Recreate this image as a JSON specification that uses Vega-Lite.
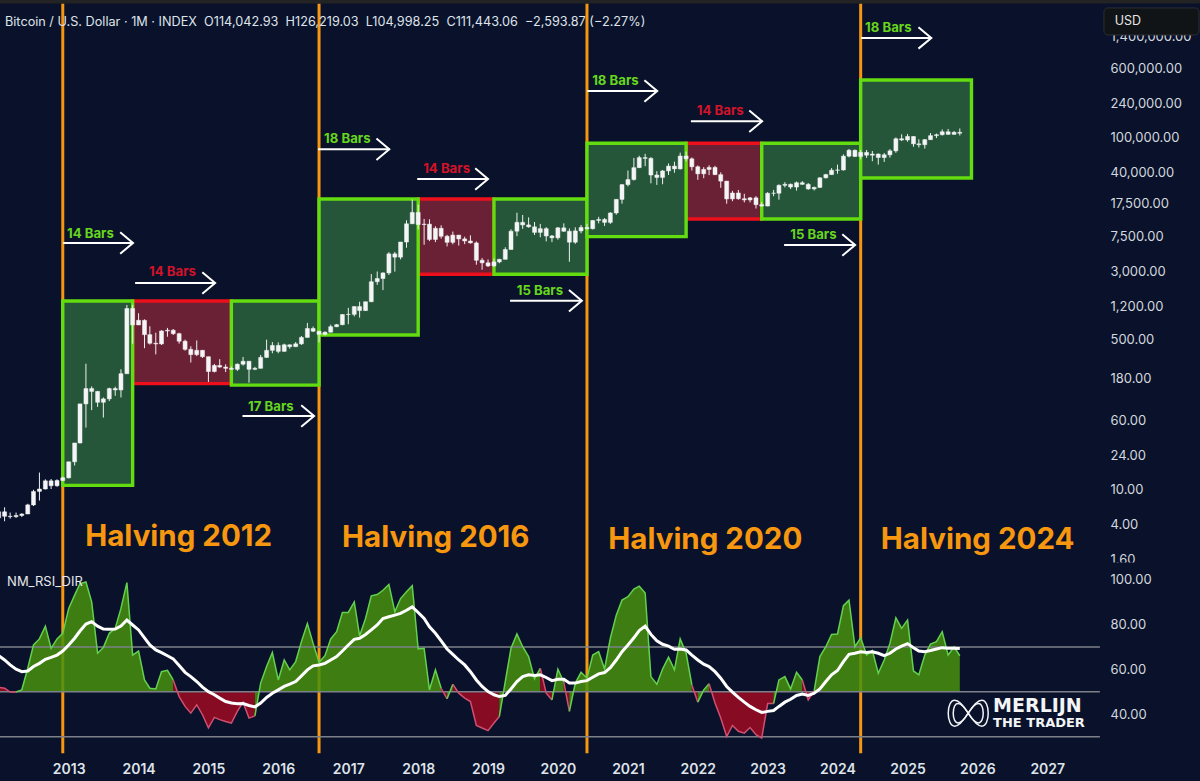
{
"$schema":"https://vega.github.io/schema/vega-lite/v6.json",
"width":1200,"height":781,"padding":0,"autosize":{"type":"none","contains":"content"},
"background":"#09122a",
"config":{"view":{"stroke":null},"font":"Inter","axis":{"grid":false,"domain":false,"ticks":false}},
"datasets":{
"candles":[
{"date":"2012-01-01","open":4.7,"high":7.2,"low":4.6,"close":5.5},{"date":"2012-02-01","open":5.5,"high":6.2,"low":4.3,"close":4.9},{"date":"2012-03-01","open":4.9,"high":5.4,"low":4.6,"close":4.85},{"date":"2012-04-01","open":4.85,"high":5.4,"low":4.7,"close":5.0},{"date":"2012-05-01","open":5.0,"high":5.3,"low":4.8,"close":5.2},{"date":"2012-06-01","open":5.2,"high":6.8,"low":5.2,"close":6.6},{"date":"2012-07-01","open":6.6,"high":9.8,"low":6.4,"close":9.4},{"date":"2012-08-01","open":9.4,"high":15.4,"low":7.4,"close":10.0},{"date":"2012-09-01","open":10.0,"high":12.9,"low":9.9,"close":12.4},{"date":"2012-10-01","open":12.4,"high":13.0,"low":10.0,"close":10.9},{"date":"2012-11-01","open":10.9,"high":12.9,"low":10.6,"close":12.5},{"date":"2012-12-01","open":12.5,"high":13.8,"low":12.3,"close":13.4},
{"date":"2013-01-01","open":13.4,"high":20.4,"low":13.2,"close":20.4},{"date":"2013-02-01","open":20.4,"high":33.4,"low":18.5,"close":33.4},{"date":"2013-03-01","open":33.4,"high":93,"low":33,"close":93},{"date":"2013-04-01","open":93,"high":266,"low":50,"close":139},{"date":"2013-05-01","open":139,"high":147,"low":79,"close":129},{"date":"2013-06-01","open":129,"high":130,"low":86,"close":97},{"date":"2013-07-01","open":97,"high":110,"low":65,"close":106},{"date":"2013-08-01","open":106,"high":142,"low":100,"close":139},{"date":"2013-09-01","open":139,"high":146,"low":115,"close":134},{"date":"2013-10-01","open":134,"high":230,"low":110,"close":205},{"date":"2013-11-01","open":205,"high":1240,"low":205,"close":1130},{"date":"2013-12-01","open":1130,"high":1240,"low":450,"close":735},
{"date":"2014-01-01","open":735,"high":1000,"low":735,"close":830},{"date":"2014-02-01","open":830,"high":850,"low":400,"close":570},{"date":"2014-03-01","open":570,"high":710,"low":440,"close":455},{"date":"2014-04-01","open":455,"high":600,"low":340,"close":447},{"date":"2014-05-01","open":447,"high":640,"low":435,"close":628},{"date":"2014-06-01","open":628,"high":680,"low":540,"close":640},{"date":"2014-07-01","open":640,"high":660,"low":565,"close":585},{"date":"2014-08-01","open":585,"high":600,"low":450,"close":480},{"date":"2014-09-01","open":480,"high":500,"low":375,"close":388},{"date":"2014-10-01","open":388,"high":420,"low":275,"close":338},{"date":"2014-11-01","open":338,"high":490,"low":325,"close":378},{"date":"2014-12-01","open":378,"high":382,"low":310,"close":320},
{"date":"2015-01-01","open":320,"high":320,"low":165,"close":217},{"date":"2015-02-01","open":217,"high":265,"low":212,"close":254},{"date":"2015-03-01","open":254,"high":300,"low":240,"close":244},{"date":"2015-04-01","open":244,"high":262,"low":214,"close":236},{"date":"2015-05-01","open":236,"high":248,"low":228,"close":230},{"date":"2015-06-01","open":230,"high":268,"low":220,"close":263},{"date":"2015-07-01","open":263,"high":318,"low":253,"close":284},{"date":"2015-08-01","open":284,"high":285,"low":162,"close":230},{"date":"2015-09-01","open":230,"high":245,"low":225,"close":236},{"date":"2015-10-01","open":236,"high":335,"low":236,"close":314},{"date":"2015-11-01","open":314,"high":500,"low":310,"close":378},{"date":"2015-12-01","open":378,"high":470,"low":350,"close":430},
{"date":"2016-01-01","open":430,"high":465,"low":350,"close":368},{"date":"2016-02-01","open":368,"high":450,"low":365,"close":437},{"date":"2016-03-01","open":437,"high":440,"low":395,"close":416},{"date":"2016-04-01","open":416,"high":470,"low":416,"close":448},{"date":"2016-05-01","open":448,"high":550,"low":436,"close":530},{"date":"2016-06-01","open":530,"high":775,"low":530,"close":670},{"date":"2016-07-01","open":670,"high":705,"low":610,"close":624},{"date":"2016-08-01","open":624,"high":625,"low":465,"close":575},{"date":"2016-09-01","open":575,"high":620,"low":560,"close":608},{"date":"2016-10-01","open":608,"high":740,"low":605,"close":702},{"date":"2016-11-01","open":702,"high":755,"low":695,"close":740},{"date":"2016-12-01","open":740,"high":980,"low":730,"close":965},
{"date":"2017-01-01","open":965,"high":1150,"low":750,"close":970},{"date":"2017-02-01","open":970,"high":1200,"low":920,"close":1190},{"date":"2017-03-01","open":1190,"high":1350,"low":890,"close":1071},{"date":"2017-04-01","open":1071,"high":1350,"low":1060,"close":1350},{"date":"2017-05-01","open":1350,"high":2790,"low":1340,"close":2280},{"date":"2017-06-01","open":2280,"high":2980,"low":2100,"close":2480},{"date":"2017-07-01","open":2480,"high":2920,"low":1830,"close":2870},{"date":"2017-08-01","open":2870,"high":4950,"low":2720,"close":4730},{"date":"2017-09-01","open":4730,"high":4980,"low":2970,"close":4340},{"date":"2017-10-01","open":4340,"high":6450,"low":4100,"close":6450},{"date":"2017-11-01","open":6450,"high":11400,"low":5550,"close":10400},{"date":"2017-12-01","open":10400,"high":19666,"low":10400,"close":14000},
{"date":"2018-01-01","open":14000,"high":17200,"low":9000,"close":10200},{"date":"2018-02-01","open":10200,"high":11800,"low":6000,"close":10300},{"date":"2018-03-01","open":10300,"high":11700,"low":6600,"close":6900},{"date":"2018-04-01","open":6900,"high":9750,"low":6430,"close":9240},{"date":"2018-05-01","open":9240,"high":10000,"low":7050,"close":7500},{"date":"2018-06-01","open":7500,"high":7780,"low":5750,"close":6400},{"date":"2018-07-01","open":6400,"high":8480,"low":6070,"close":7730},{"date":"2018-08-01","open":7730,"high":7750,"low":5880,"close":7000},{"date":"2018-09-01","open":7000,"high":7410,"low":6100,"close":6630},{"date":"2018-10-01","open":6630,"high":7680,"low":6200,"close":6300},{"date":"2018-11-01","open":6300,"high":6560,"low":3560,"close":4000},{"date":"2018-12-01","open":4000,"high":4240,"low":3120,"close":3740},
{"date":"2019-01-01","open":3740,"high":4080,"low":3350,"close":3450},{"date":"2019-02-01","open":3450,"high":4200,"low":3390,"close":3830},{"date":"2019-03-01","open":3830,"high":4150,"low":3700,"close":4100},{"date":"2019-04-01","open":4100,"high":5620,"low":4100,"close":5300},{"date":"2019-05-01","open":5300,"high":9000,"low":5300,"close":8570},{"date":"2019-06-01","open":8570,"high":13900,"low":7520,"close":10800},{"date":"2019-07-01","open":10800,"high":13100,"low":9100,"close":10100},{"date":"2019-08-01","open":10100,"high":12300,"low":9400,"close":9600},{"date":"2019-09-01","open":9600,"high":10900,"low":7750,"close":8300},{"date":"2019-10-01","open":8300,"high":10370,"low":7300,"close":9150},{"date":"2019-11-01","open":9150,"high":9520,"low":6550,"close":7560},{"date":"2019-12-01","open":7560,"high":7750,"low":6430,"close":7200},
{"date":"2020-01-01","open":7200,"high":9560,"low":6850,"close":9350},{"date":"2020-02-01","open":9350,"high":10520,"low":8440,"close":8550},{"date":"2020-03-01","open":8550,"high":9190,"low":3850,"close":6420},{"date":"2020-04-01","open":6420,"high":9480,"low":6150,"close":8630},{"date":"2020-05-01","open":8630,"high":10070,"low":8110,"close":9450},{"date":"2020-06-01","open":9450,"high":10380,"low":8900,"close":9140},{"date":"2020-07-01","open":9140,"high":11400,"low":8970,"close":11350},{"date":"2020-08-01","open":11350,"high":12470,"low":10520,"close":11650},{"date":"2020-09-01","open":11650,"high":12070,"low":9820,"close":10790},{"date":"2020-10-01","open":10790,"high":14100,"low":10370,"close":13800},{"date":"2020-11-01","open":13800,"high":19850,"low":13220,"close":19700},{"date":"2020-12-01","open":19700,"high":29300,"low":17600,"close":29000},
{"date":"2021-01-01","open":29000,"high":41950,"low":27700,"close":33100},{"date":"2021-02-01","open":33100,"high":58350,"low":32300,"close":45200},{"date":"2021-03-01","open":45200,"high":61780,"low":44950,"close":58800},{"date":"2021-04-01","open":58800,"high":64900,"low":47000,"close":57700},{"date":"2021-05-01","open":57700,"high":59600,"low":30000,"close":37300},{"date":"2021-06-01","open":37300,"high":41300,"low":28800,"close":35000},{"date":"2021-07-01","open":35000,"high":42400,"low":29300,"close":41500},{"date":"2021-08-01","open":41500,"high":50500,"low":37300,"close":47100},{"date":"2021-09-01","open":47100,"high":52900,"low":39600,"close":43800},{"date":"2021-10-01","open":43800,"high":67000,"low":43200,"close":61300},{"date":"2021-11-01","open":61300,"high":69000,"low":53300,"close":57000},{"date":"2021-12-01","open":57000,"high":59100,"low":42000,"close":46300},
{"date":"2022-01-01","open":46300,"high":47900,"low":32900,"close":38500},{"date":"2022-02-01","open":38500,"high":45800,"low":34300,"close":43200},{"date":"2022-03-01","open":43200,"high":48200,"low":37200,"close":45500},{"date":"2022-04-01","open":45500,"high":47450,"low":37600,"close":37650},{"date":"2022-05-01","open":37650,"high":40000,"low":26700,"close":31800},{"date":"2022-06-01","open":31800,"high":31900,"low":17600,"close":19950},{"date":"2022-07-01","open":19950,"high":24650,"low":18800,"close":23300},{"date":"2022-08-01","open":23300,"high":25200,"low":19550,"close":20050},{"date":"2022-09-01","open":20050,"high":22800,"low":18200,"close":19430},{"date":"2022-10-01","open":19430,"high":20990,"low":18200,"close":20500},{"date":"2022-11-01","open":20500,"high":21450,"low":15500,"close":17150},{"date":"2022-12-01","open":17150,"high":18350,"low":16300,"close":16550},
{"date":"2023-01-01","open":16550,"high":23800,"low":16500,"close":23130},{"date":"2023-02-01","open":23130,"high":25250,"low":21400,"close":23150},{"date":"2023-03-01","open":23150,"high":29200,"low":19550,"close":28470},{"date":"2023-04-01","open":28470,"high":31000,"low":26950,"close":29250},{"date":"2023-05-01","open":29250,"high":29800,"low":25800,"close":27220},{"date":"2023-06-01","open":27220,"high":31450,"low":24800,"close":30470},{"date":"2023-07-01","open":30470,"high":31820,"low":28850,"close":29230},{"date":"2023-08-01","open":29230,"high":30200,"low":25300,"close":25940},{"date":"2023-09-01","open":25940,"high":27500,"low":24900,"close":26960},{"date":"2023-10-01","open":26960,"high":35200,"low":26550,"close":34650},{"date":"2023-11-01","open":34650,"high":38450,"low":34100,"close":37720},{"date":"2023-12-01","open":37720,"high":44700,"low":37600,"close":42280},
{"date":"2024-01-01","open":42280,"high":48950,"low":38500,"close":42580},{"date":"2024-02-01","open":42580,"high":64000,"low":41900,"close":61130},{"date":"2024-03-01","open":61130,"high":73800,"low":59300,"close":71300},{"date":"2024-04-01","open":71300,"high":72800,"low":59600,"close":60640},{"date":"2024-05-01","open":60640,"high":71950,"low":56500,"close":67500},{"date":"2024-06-01","open":67500,"high":71950,"low":58400,"close":62700},{"date":"2024-07-01","open":62700,"high":70000,"low":53500,"close":64600},{"date":"2024-08-01","open":64600,"high":65600,"low":49000,"close":58950},{"date":"2024-09-01","open":58950,"high":66500,"low":52550,"close":63300},{"date":"2024-10-01","open":63300,"high":73600,"low":58900,"close":70200},{"date":"2024-11-01","open":70200,"high":99800,"low":66800,"close":96400},{"date":"2024-12-01","open":96400,"high":108300,"low":90700,"close":93400},
{"date":"2025-01-01","open":93400,"high":109350,"low":89200,"close":102400},{"date":"2025-02-01","open":102400,"high":102800,"low":78200,"close":84350},{"date":"2025-03-01","open":84350,"high":95000,"low":76600,"close":82500},{"date":"2025-04-01","open":82500,"high":95800,"low":74500,"close":94200},{"date":"2025-05-01","open":94200,"high":112000,"low":93400,"close":104600},{"date":"2025-06-01","open":104600,"high":110500,"low":98200,"close":107150},{"date":"2025-07-01","open":107150,"high":123200,"low":105100,"close":115750},{"date":"2025-08-01","open":115750,"high":124500,"low":107250,"close":108250},{"date":"2025-09-01","open":108250,"high":117900,"low":107250,"close":114050},{"date":"2025-10-01","open":114042.93,"high":126219.03,"low":104998.25,"close":111443.06}
],
"rsi":[
{"date":"2012-01-01","rsi":52,"dir":"bear","run":0},{"date":"2012-02-01","rsi":51.6,"dir":"bear","run":0},{"date":"2012-03-01","rsi":49.9,"dir":"bear","run":0},{"date":"2012-04-01","rsi":49.9,"dir":"bear","run":0},
{"date":"2012-04-01","rsi":49.9,"dir":"bull","run":1},{"date":"2012-05-01","rsi":50.9,"dir":"bull","run":1},{"date":"2012-06-01","rsi":60.5,"dir":"bull","run":1},{"date":"2012-07-01","rsi":70.9,"dir":"bull","run":1},{"date":"2012-08-01","rsi":73.6,"dir":"bull","run":1},{"date":"2012-09-01","rsi":79.3,"dir":"bull","run":1},{"date":"2012-10-01","rsi":69.4,"dir":"bull","run":1},{"date":"2012-11-01","rsi":73.6,"dir":"bull","run":1},{"date":"2012-12-01","rsi":76.1,"dir":"bull","run":1},
{"date":"2013-01-01","rsi":87.2,"dir":"bull","run":1},{"date":"2013-02-01","rsi":93.1,"dir":"bull","run":1},{"date":"2013-03-01","rsi":98.3,"dir":"bull","run":1},{"date":"2013-04-01","rsi":99.0,"dir":"bull","run":1},{"date":"2013-05-01","rsi":90.1,"dir":"bull","run":1},{"date":"2013-06-01","rsi":67.2,"dir":"bull","run":1},{"date":"2013-07-01","rsi":69.7,"dir":"bull","run":1},{"date":"2013-08-01","rsi":76.1,"dir":"bull","run":1},{"date":"2013-09-01","rsi":78.3,"dir":"bull","run":1},{"date":"2013-10-01","rsi":87.2,"dir":"bull","run":1},{"date":"2013-11-01","rsi":98.7,"dir":"bull","run":1},{"date":"2013-12-01","rsi":66.4,"dir":"bull","run":1},
{"date":"2014-01-01","rsi":68.2,"dir":"bull","run":1},{"date":"2014-02-01","rsi":55.3,"dir":"bull","run":1},{"date":"2014-03-01","rsi":51.6,"dir":"bull","run":1},{"date":"2014-04-01","rsi":51.3,"dir":"bull","run":1},{"date":"2014-05-01","rsi":59.0,"dir":"bull","run":1},{"date":"2014-06-01","rsi":59.6,"dir":"bull","run":1},{"date":"2014-07-01","rsi":55.3,"dir":"bull","run":1},
{"date":"2014-07-01","rsi":55.3,"dir":"bear","run":2},{"date":"2014-08-01","rsi":47.9,"dir":"bear","run":2},{"date":"2014-09-01","rsi":43.5,"dir":"bear","run":2},{"date":"2014-10-01","rsi":40.5,"dir":"bear","run":2},{"date":"2014-11-01","rsi":44.2,"dir":"bear","run":2},{"date":"2014-12-01","rsi":39.8,"dir":"bear","run":2},{"date":"2015-01-01","rsi":33.9,"dir":"bear","run":2},{"date":"2015-02-01","rsi":38.6,"dir":"bear","run":2},{"date":"2015-03-01","rsi":37.6,"dir":"bear","run":2},{"date":"2015-04-01","rsi":36.8,"dir":"bear","run":2},{"date":"2015-05-01","rsi":36.1,"dir":"bear","run":2},{"date":"2015-06-01","rsi":41.3,"dir":"bear","run":2},{"date":"2015-07-01","rsi":45.4,"dir":"bear","run":2},{"date":"2015-08-01","rsi":38.3,"dir":"bear","run":2},{"date":"2015-09-01","rsi":39.3,"dir":"bear","run":2},
{"date":"2015-09-01","rsi":39.3,"dir":"bull","run":3},{"date":"2015-10-01","rsi":53.9,"dir":"bull","run":3},{"date":"2015-11-01","rsi":61.3,"dir":"bull","run":3},{"date":"2015-12-01","rsi":67.5,"dir":"bull","run":3},
{"date":"2016-01-01","rsi":55.3,"dir":"bull","run":3},{"date":"2016-02-01","rsi":64.2,"dir":"bull","run":3},{"date":"2016-03-01","rsi":59.8,"dir":"bull","run":3},{"date":"2016-04-01","rsi":63.5,"dir":"bull","run":3},{"date":"2016-05-01","rsi":72.4,"dir":"bull","run":3},{"date":"2016-06-01","rsi":80.5,"dir":"bull","run":3},{"date":"2016-07-01","rsi":71.6,"dir":"bull","run":3},{"date":"2016-08-01","rsi":63.2,"dir":"bull","run":3},{"date":"2016-09-01","rsi":66.1,"dir":"bull","run":3},{"date":"2016-10-01","rsi":73.6,"dir":"bull","run":3},{"date":"2016-11-01","rsi":76.8,"dir":"bull","run":3},{"date":"2016-12-01","rsi":85.4,"dir":"bull","run":3},
{"date":"2017-01-01","rsi":85.4,"dir":"bull","run":3},{"date":"2017-02-01","rsi":90.1,"dir":"bull","run":3},{"date":"2017-03-01","rsi":75.0,"dir":"bull","run":3},{"date":"2017-04-01","rsi":82.7,"dir":"bull","run":3},{"date":"2017-05-01","rsi":92.8,"dir":"bull","run":3},{"date":"2017-06-01","rsi":93.4,"dir":"bull","run":3},{"date":"2017-07-01","rsi":95.3,"dir":"bull","run":3},{"date":"2017-08-01","rsi":97.9,"dir":"bull","run":3},{"date":"2017-09-01","rsi":85.7,"dir":"bull","run":3},{"date":"2017-10-01","rsi":91.6,"dir":"bull","run":3},{"date":"2017-11-01","rsi":94.6,"dir":"bull","run":3},{"date":"2017-12-01","rsi":97.3,"dir":"bull","run":3},
{"date":"2018-01-01","rsi":69.1,"dir":"bull","run":3},{"date":"2018-02-01","rsi":69.4,"dir":"bull","run":3},{"date":"2018-03-01","rsi":50.9,"dir":"bull","run":3},{"date":"2018-04-01","rsi":59.8,"dir":"bull","run":3},{"date":"2018-05-01","rsi":51.6,"dir":"bull","run":3},
{"date":"2018-05-01","rsi":51.6,"dir":"bear","run":4},{"date":"2018-06-01","rsi":46.9,"dir":"bear","run":4},
{"date":"2018-06-01","rsi":46.9,"dir":"bull","run":5},{"date":"2018-07-01","rsi":53.4,"dir":"bull","run":5},
{"date":"2018-07-01","rsi":53.4,"dir":"bear","run":6},{"date":"2018-08-01","rsi":49.4,"dir":"bear","run":6},{"date":"2018-09-01","rsi":47.2,"dir":"bear","run":6},{"date":"2018-10-01","rsi":45.7,"dir":"bear","run":6},{"date":"2018-11-01","rsi":35.0,"dir":"bear","run":6},{"date":"2018-12-01","rsi":33.9,"dir":"bear","run":6},{"date":"2019-01-01","rsi":32.7,"dir":"bear","run":6},{"date":"2019-02-01","rsi":36.1,"dir":"bear","run":6},{"date":"2019-03-01","rsi":39.0,"dir":"bear","run":6},
{"date":"2019-03-01","rsi":39.0,"dir":"bull","run":7},{"date":"2019-04-01","rsi":54.6,"dir":"bull","run":7},{"date":"2019-05-01","rsi":69.4,"dir":"bull","run":7},{"date":"2019-06-01","rsi":75.8,"dir":"bull","run":7},{"date":"2019-07-01","rsi":70.1,"dir":"bull","run":7},{"date":"2019-08-01","rsi":65.7,"dir":"bull","run":7},{"date":"2019-09-01","rsi":55.8,"dir":"bull","run":7},{"date":"2019-10-01","rsi":60.5,"dir":"bull","run":7},
{"date":"2019-10-01","rsi":60.5,"dir":"bear","run":8},{"date":"2019-11-01","rsi":49.4,"dir":"bear","run":8},{"date":"2019-12-01","rsi":46.4,"dir":"bear","run":8},
{"date":"2019-12-01","rsi":46.4,"dir":"bull","run":9},{"date":"2020-01-01","rsi":60.1,"dir":"bull","run":9},{"date":"2020-02-01","rsi":54.3,"dir":"bull","run":9},
{"date":"2020-02-01","rsi":54.3,"dir":"bear","run":10},{"date":"2020-03-01","rsi":41.3,"dir":"bear","run":10},
{"date":"2020-03-01","rsi":41.3,"dir":"bull","run":11},{"date":"2020-04-01","rsi":53.9,"dir":"bull","run":11},{"date":"2020-05-01","rsi":58.7,"dir":"bull","run":11},{"date":"2020-06-01","rsi":56.1,"dir":"bull","run":11},{"date":"2020-07-01","rsi":66.4,"dir":"bull","run":11},{"date":"2020-08-01","rsi":67.9,"dir":"bull","run":11},{"date":"2020-09-01","rsi":60.2,"dir":"bull","run":11},{"date":"2020-10-01","rsi":73.9,"dir":"bull","run":11},{"date":"2020-11-01","rsi":84.2,"dir":"bull","run":11},{"date":"2020-12-01","rsi":90.9,"dir":"bull","run":11},
{"date":"2021-01-01","rsi":92.4,"dir":"bull","run":11},{"date":"2021-02-01","rsi":95.8,"dir":"bull","run":11},{"date":"2021-03-01","rsi":97.1,"dir":"bull","run":11},{"date":"2021-04-01","rsi":94.1,"dir":"bull","run":11},{"date":"2021-05-01","rsi":56.8,"dir":"bull","run":11},{"date":"2021-06-01","rsi":53.4,"dir":"bull","run":11},{"date":"2021-07-01","rsi":60.2,"dir":"bull","run":11},{"date":"2021-08-01","rsi":65.4,"dir":"bull","run":11},{"date":"2021-09-01","rsi":59.8,"dir":"bull","run":11},{"date":"2021-10-01","rsi":73.6,"dir":"bull","run":11},{"date":"2021-11-01","rsi":67.2,"dir":"bull","run":11},{"date":"2021-12-01","rsi":53.1,"dir":"bull","run":11},
{"date":"2021-12-01","rsi":53.1,"dir":"bear","run":12},{"date":"2022-01-01","rsi":45.4,"dir":"bear","run":12},
{"date":"2022-01-01","rsi":45.4,"dir":"bull","run":13},{"date":"2022-02-01","rsi":50.9,"dir":"bull","run":13},{"date":"2022-03-01","rsi":53.6,"dir":"bull","run":13},
{"date":"2022-03-01","rsi":53.6,"dir":"bear","run":14},{"date":"2022-04-01","rsi":45.0,"dir":"bear","run":14},{"date":"2022-05-01","rsi":38.3,"dir":"bear","run":14},{"date":"2022-06-01","rsi":30.1,"dir":"bear","run":14},{"date":"2022-07-01","rsi":35.0,"dir":"bear","run":14},{"date":"2022-08-01","rsi":32.4,"dir":"bear","run":14},{"date":"2022-09-01","rsi":31.6,"dir":"bear","run":14},{"date":"2022-10-01","rsi":34.1,"dir":"bear","run":14},{"date":"2022-11-01","rsi":30.9,"dir":"bear","run":14},{"date":"2022-12-01","rsi":29.4,"dir":"bear","run":14},{"date":"2023-01-01","rsi":44.8,"dir":"bear","run":14},{"date":"2023-02-01","rsi":44.8,"dir":"bear","run":14},
{"date":"2023-02-01","rsi":44.8,"dir":"bull","run":15},{"date":"2023-03-01","rsi":55.3,"dir":"bull","run":15},{"date":"2023-04-01","rsi":56.8,"dir":"bull","run":15},{"date":"2023-05-01","rsi":51.3,"dir":"bull","run":15},{"date":"2023-06-01","rsi":58.7,"dir":"bull","run":15},{"date":"2023-07-01","rsi":55.3,"dir":"bull","run":15},
{"date":"2023-07-01","rsi":55.3,"dir":"bear","run":16},{"date":"2023-08-01","rsi":46.4,"dir":"bear","run":16},{"date":"2023-09-01","rsi":50.4,"dir":"bear","run":16},
{"date":"2023-09-01","rsi":50.4,"dir":"bull","run":17},{"date":"2023-10-01","rsi":65.7,"dir":"bull","run":17},{"date":"2023-11-01","rsi":70.1,"dir":"bull","run":17},{"date":"2023-12-01","rsi":75.6,"dir":"bull","run":17},
{"date":"2024-01-01","rsi":75.8,"dir":"bull","run":17},{"date":"2024-02-01","rsi":88.4,"dir":"bull","run":17},{"date":"2024-03-01","rsi":90.9,"dir":"bull","run":17},{"date":"2024-04-01","rsi":70.1,"dir":"bull","run":17},{"date":"2024-05-01","rsi":74.1,"dir":"bull","run":17},{"date":"2024-06-01","rsi":66.4,"dir":"bull","run":17},{"date":"2024-07-01","rsi":68.4,"dir":"bull","run":17},{"date":"2024-08-01","rsi":58.3,"dir":"bull","run":17},{"date":"2024-09-01","rsi":64.2,"dir":"bull","run":17},{"date":"2024-10-01","rsi":71.6,"dir":"bull","run":17},{"date":"2024-11-01","rsi":83.0,"dir":"bull","run":17},{"date":"2024-12-01","rsi":78.3,"dir":"bull","run":17},
{"date":"2025-01-01","rsi":82.0,"dir":"bull","run":17},{"date":"2025-02-01","rsi":59.3,"dir":"bull","run":17},{"date":"2025-03-01","rsi":57.6,"dir":"bull","run":17},{"date":"2025-04-01","rsi":66.4,"dir":"bull","run":17},{"date":"2025-05-01","rsi":71.3,"dir":"bull","run":17},{"date":"2025-06-01","rsi":72.4,"dir":"bull","run":17},{"date":"2025-07-01","rsi":76.8,"dir":"bull","run":17},{"date":"2025-08-01","rsi":66.4,"dir":"bull","run":17},{"date":"2025-09-01","rsi":70.1,"dir":"bull","run":17},{"date":"2025-10-01","rsi":66.1,"dir":"bull","run":17}
],
"ma":[
{"date":"2012-01-01","ma":66.1},{"date":"2012-02-01","ma":64.2},{"date":"2012-03-01","ma":62.0},{"date":"2012-04-01","ma":60.1},{"date":"2012-05-01","ma":59.0},{"date":"2012-06-01","ma":59.3},{"date":"2012-07-01","ma":61.3},{"date":"2012-08-01","ma":62.7},{"date":"2012-09-01","ma":64.5},{"date":"2012-10-01","ma":65.4},{"date":"2012-11-01","ma":66.4},{"date":"2012-12-01","ma":68.2},
{"date":"2013-01-01","ma":70.9},{"date":"2013-02-01","ma":73.9},{"date":"2013-03-01","ma":77.1},{"date":"2013-04-01","ma":80.2},{"date":"2013-05-01","ma":81.3},{"date":"2013-06-01","ma":79.3},{"date":"2013-07-01","ma":78.0},{"date":"2013-08-01","ma":77.9},{"date":"2013-09-01","ma":78.0},{"date":"2013-10-01","ma":79.3},{"date":"2013-11-01","ma":82.0},{"date":"2013-12-01","ma":79.8},
{"date":"2014-01-01","ma":77.6},{"date":"2014-02-01","ma":74.1},{"date":"2014-03-01","ma":70.9},{"date":"2014-04-01","ma":68.7},{"date":"2014-05-01","ma":67.5},{"date":"2014-06-01","ma":66.1},{"date":"2014-07-01","ma":64.7},{"date":"2014-08-01","ma":61.7},{"date":"2014-09-01","ma":58.7},{"date":"2014-10-01","ma":56.8},{"date":"2014-11-01","ma":54.6},{"date":"2014-12-01","ma":52.1},
{"date":"2015-01-01","ma":50.1},{"date":"2015-02-01","ma":48.7},{"date":"2015-03-01","ma":47.2},{"date":"2015-04-01","ma":45.7},{"date":"2015-05-01","ma":45.0},{"date":"2015-06-01","ma":44.7},{"date":"2015-07-01","ma":44.8},{"date":"2015-08-01","ma":43.9},{"date":"2015-09-01","ma":43.3},{"date":"2015-10-01","ma":45.0},{"date":"2015-11-01","ma":47.5},{"date":"2015-12-01","ma":49.4},
{"date":"2016-01-01","ma":50.9},{"date":"2016-02-01","ma":52.4},{"date":"2016-03-01","ma":53.4},{"date":"2016-04-01","ma":54.6},{"date":"2016-05-01","ma":57.1},{"date":"2016-06-01","ma":59.8},{"date":"2016-07-01","ma":61.6},{"date":"2016-08-01","ma":62.0},{"date":"2016-09-01","ma":62.7},{"date":"2016-10-01","ma":64.2},{"date":"2016-11-01","ma":65.7},{"date":"2016-12-01","ma":68.2},
{"date":"2017-01-01","ma":70.9},{"date":"2017-02-01","ma":73.4},{"date":"2017-03-01","ma":73.9},{"date":"2017-04-01","ma":75.6},{"date":"2017-05-01","ma":77.6},{"date":"2017-06-01","ma":79.8},{"date":"2017-07-01","ma":82.7},{"date":"2017-08-01","ma":83.5},{"date":"2017-09-01","ma":84.2},{"date":"2017-10-01","ma":85.0},{"date":"2017-11-01","ma":86.4},{"date":"2017-12-01","ma":87.9},
{"date":"2018-01-01","ma":85.4},{"date":"2018-02-01","ma":82.7},{"date":"2018-03-01","ma":79.0},{"date":"2018-04-01","ma":76.1},{"date":"2018-05-01","ma":72.7},{"date":"2018-06-01","ma":69.1},{"date":"2018-07-01","ma":66.7},{"date":"2018-08-01","ma":64.2},{"date":"2018-09-01","ma":62.0},{"date":"2018-10-01","ma":59.0},{"date":"2018-11-01","ma":55.3},{"date":"2018-12-01","ma":52.4},
{"date":"2019-01-01","ma":50.1},{"date":"2019-02-01","ma":48.7},{"date":"2019-03-01","ma":47.9},{"date":"2019-04-01","ma":48.4},{"date":"2019-05-01","ma":51.3},{"date":"2019-06-01","ma":54.6},{"date":"2019-07-01","ma":56.8},{"date":"2019-08-01","ma":57.6},{"date":"2019-09-01","ma":57.3},{"date":"2019-10-01","ma":57.6},{"date":"2019-11-01","ma":56.4},{"date":"2019-12-01","ma":55.0},
{"date":"2020-01-01","ma":55.6},{"date":"2020-02-01","ma":55.6},{"date":"2020-03-01","ma":53.9},{"date":"2020-04-01","ma":53.9},{"date":"2020-05-01","ma":54.6},{"date":"2020-06-01","ma":55.0},{"date":"2020-07-01","ma":56.5},{"date":"2020-08-01","ma":58.0},{"date":"2020-09-01","ma":58.6},{"date":"2020-10-01","ma":60.8},{"date":"2020-11-01","ma":64.2},{"date":"2020-12-01","ma":67.9},
{"date":"2021-01-01","ma":70.9},{"date":"2021-02-01","ma":74.1},{"date":"2021-03-01","ma":77.3},{"date":"2021-04-01","ma":79.3},{"date":"2021-05-01","ma":75.6},{"date":"2021-06-01","ma":72.8},{"date":"2021-07-01","ma":71.2},{"date":"2021-08-01","ma":70.4},{"date":"2021-09-01","ma":69.0},{"date":"2021-10-01","ma":69.1},{"date":"2021-11-01","ma":68.7},{"date":"2021-12-01","ma":66.4},
{"date":"2022-01-01","ma":64.2},{"date":"2022-02-01","ma":62.3},{"date":"2022-03-01","ma":61.3},{"date":"2022-04-01","ma":59.0},{"date":"2022-05-01","ma":56.1},{"date":"2022-06-01","ma":52.4},{"date":"2022-07-01","ma":49.9},{"date":"2022-08-01","ma":47.5},{"date":"2022-09-01","ma":45.4},{"date":"2022-10-01","ma":43.5},{"date":"2022-11-01","ma":42.0},{"date":"2022-12-01","ma":40.8},
{"date":"2023-01-01","ma":41.3},{"date":"2023-02-01","ma":41.7},{"date":"2023-03-01","ma":43.5},{"date":"2023-04-01","ma":45.4},{"date":"2023-05-01","ma":46.7},{"date":"2023-06-01","ma":48.4},{"date":"2023-07-01","ma":49.0},{"date":"2023-08-01","ma":48.4},{"date":"2023-09-01","ma":49.4},{"date":"2023-10-01","ma":51.3},{"date":"2023-11-01","ma":54.6},{"date":"2023-12-01","ma":57.6},
{"date":"2024-01-01","ma":59.5},{"date":"2024-02-01","ma":63.5},{"date":"2024-03-01","ma":66.7},{"date":"2024-04-01","ma":67.2},{"date":"2024-05-01","ma":67.9},{"date":"2024-06-01","ma":67.6},{"date":"2024-07-01","ma":67.9},{"date":"2024-08-01","ma":67.2},{"date":"2024-09-01","ma":66.1},{"date":"2024-10-01","ma":67.2},{"date":"2024-11-01","ma":69.1},{"date":"2024-12-01","ma":70.4},
{"date":"2025-01-01","ma":71.5},{"date":"2025-02-01","ma":69.7},{"date":"2025-03-01","ma":68.2},{"date":"2025-04-01","ma":67.9},{"date":"2025-05-01","ma":68.4},{"date":"2025-06-01","ma":69.1},{"date":"2025-07-01","ma":69.7},{"date":"2025-08-01","ma":69.4},{"date":"2025-09-01","ma":69.4},{"date":"2025-10-01","ma":69.3}
],
"halvings":[{"date":"2012-12-01","top":3330000,"bottom":0.0099},{"date":"2016-08-01","top":3330000,"bottom":0.0099},{"date":"2020-06-01","top":3330000,"bottom":0.0099},{"date":"2024-05-01","top":3330000,"bottom":0.0099}],
"boxes":[
{"date":"2013-12-01","end":"2015-05-01","hi":1377,"lo":158,"kind":"bear"},
{"date":"2018-01-01","end":"2019-02-01","hi":19900,"lo":2770,"kind":"bear"},
{"date":"2021-11-01","end":"2022-12-01","hi":85700,"lo":11800,"kind":"bear"},
{"date":"2012-12-01","end":"2013-12-01","hi":1377,"lo":11,"kind":"bull"},
{"date":"2015-05-01","end":"2016-08-01","hi":1377,"lo":152,"kind":"bull"},
{"date":"2016-08-01","end":"2018-01-01","hi":19900,"lo":565,"kind":"bull"},
{"date":"2019-02-01","end":"2020-06-01","hi":19900,"lo":2770,"kind":"bull"},
{"date":"2020-06-01","end":"2021-11-01","hi":85700,"lo":7420,"kind":"bull"},
{"date":"2022-12-01","end":"2024-05-01","hi":85700,"lo":11800,"kind":"bull"},
{"date":"2024-05-01","end":"2025-12-01","hi":450000,"lo":34500,"kind":"bull"}
],
"arrows":[
{"date":"2012-12-03","end":"2013-12-03","price":6290,"labelDate":"2012-12-23","labelPrice":7960,"label":"14 Bars","kind":"bull"},
{"date":"2013-12-14","end":"2015-02-05","price":2207,"labelDate":"2014-02-25","labelPrice":2944,"label":"14 Bars","kind":"bear"},
{"date":"2015-06-28","end":"2016-07-06","price":67.7,"labelDate":"2015-07-27","labelPrice":86.3,"label":"17 Bars","kind":"bull"},
{"date":"2016-07-27","end":"2017-08-03","price":73200,"labelDate":"2016-08-27","labelPrice":95100,"label":"18 Bars","kind":"bull"},
{"date":"2017-12-27","end":"2019-01-01","price":33600,"labelDate":"2018-01-27","labelPrice":43700,"label":"14 Bars","kind":"bear"},
{"date":"2019-04-26","end":"2020-05-05","price":1387,"labelDate":"2019-05-31","labelPrice":1790,"label":"15 Bars","kind":"bull"},
{"date":"2020-06-02","end":"2021-06-03","price":337000,"labelDate":"2020-06-28","labelPrice":438000,"label":"18 Bars","kind":"bull"},
{"date":"2021-11-26","end":"2022-12-03","price":152500,"labelDate":"2021-12-27","labelPrice":198000,"label":"14 Bars","kind":"bear"},
{"date":"2023-03-28","end":"2024-04-02","price":5970,"labelDate":"2023-04-29","labelPrice":7760,"label":"15 Bars","kind":"bull"},
{"date":"2024-05-03","end":"2025-05-05","price":1352000,"labelDate":"2024-05-24","labelPrice":1758000,"label":"18 Bars","kind":"bull"}
],
"titles":[
{"date":"2013-03-28","price":2.84,"label":"Halving 2012"},
{"date":"2016-11-29","price":2.77,"label":"Halving 2016"},
{"date":"2020-09-20","price":2.63,"label":"Halving 2020"},
{"date":"2024-08-14","price":2.63,"label":"Halving 2024"}
],
"levels":[{"date":"2012-01-08","end":"2027-10-03","level":70},{"date":"2012-01-08","end":"2027-10-03","level":50},{"date":"2012-01-08","end":"2027-10-03","level":30}]
},
"encoding":{"x":{"field":"date","type":"temporal","title":null,
"scale":{"type":"utc","nice":false,"padding":0,"domain":[{"year":2012,"month":1,"date":8,"utc":true},{"year":2029,"month":3,"date":9,"utc":true}]},
"axis":{"orient":"bottom","offset":-19,"title":null,"labelPadding":0,"labelColor":"#dfe3ea","labelFontSize":14,"labelFontWeight":600,"labelFont":"Inter","format":"%Y","formatType":"utc","labelOverlap":false,"labelFlush":false,"labelBound":false,"zindex":0,
"values":[{"year":2012,"utc":true},{"year":2013,"utc":true},{"year":2014,"utc":true},{"year":2015,"utc":true},{"year":2016,"utc":true},{"year":2017,"utc":true},{"year":2018,"utc":true},{"year":2019,"utc":true},{"year":2020,"utc":true},{"year":2021,"utc":true},{"year":2022,"utc":true},{"year":2023,"utc":true},{"year":2024,"utc":true},{"year":2025,"utc":true},{"year":2026,"utc":true},{"year":2027,"utc":true}]}}},
"layer":[
{"layer":[
{"data":{"name":"halvings"},"mark":{"type":"rule","color":"#f7960f","strokeWidth":3},
"encoding":{"y":{"field":"top","type":"quantitative","title":null,"scale":{"type":"log","nice":false,"domain":[1.6,1400000],"range":[559,36.6]},
"axis":{"orient":"right","offset":-90,"title":null,"labelPadding":0,"labelColor":"#d3d7df","labelFontSize":13,"labelFont":"Inter","labelAlign":"left","labelBound":false,"labelFlush":false,"labelOverlap":false,"format":",.2f","zindex":0,"values":[1400000,600000,240000,100000,40000,17500,7500,3000,1200,500,180,60,24,10,4,1.6]}},
"y2":{"field":"bottom"}}},
{"data":{"name":"boxes"},"mark":{"type":"rect","strokeWidth":3.4},
"encoding":{"x":{"field":"date","type":"temporal"},"x2":{"field":"end"},"y":{"field":"hi","type":"quantitative"},"y2":{"field":"lo"},
"fill":{"field":"kind","type":"nominal","legend":null,"scale":{"domain":["bull","bear"],"range":["#255639","#6b2135"]}},
"stroke":{"field":"kind","type":"nominal","legend":null,"scale":{"domain":["bull","bear"],"range":["#63dc10","#ec101d"]}}}},
{"data":{"name":"candles"},"mark":{"type":"rule","color":"#eef0f2","strokeWidth":1},
"encoding":{"y":{"field":"high","type":"quantitative"},"y2":{"field":"low"}}},
{"data":{"name":"candles"},"mark":{"type":"bar","size":4,"color":"#f4f5f6","stroke":"#f4f5f6","strokeWidth":0.5},
"encoding":{"y":{"field":"open","type":"quantitative"},"y2":{"field":"close"}}},
{"data":{"name":"arrows"},"mark":{"type":"rule","color":"#ffffff","strokeWidth":2},
"encoding":{"x":{"field":"date","type":"temporal"},"x2":{"field":"end"},"y":{"field":"price","type":"quantitative"}}},
{"data":{"name":"arrows"},"mark":{"type":"point","shape":"M -1.2 -1 L 0 0 L -1.2 1","filled":false,"size":458,"stroke":"#ffffff","strokeWidth":2,"opacity":1},
"encoding":{"x":{"field":"end","type":"temporal"},"y":{"field":"price","type":"quantitative"}}},
{"data":{"name":"arrows"},"mark":{"type":"text","align":"left","baseline":"middle","fontSize":13.2,"fontWeight":700,"font":"Inter"},
"encoding":{"x":{"field":"labelDate","type":"temporal"},"y":{"field":"labelPrice","type":"quantitative"},"text":{"field":"label"},
"color":{"field":"kind","type":"nominal","legend":null,"scale":{"domain":["bull","bear"],"range":["#66d61e","#d3132a"]}}}},
{"data":{"name":"titles"},"mark":{"type":"text","align":"left","baseline":"middle","fontSize":29.5,"fontWeight":700,"font":"Inter","color":"#f7960f"},
"encoding":{"y":{"field":"price","type":"quantitative"},"text":{"field":"label"}}},
{"data":{"values":[{"date":"2027-10-03","end":"2029-03-09","hi":1.46,"lo":1.135}]},"mark":{"type":"rect","color":"#09122a"},
"encoding":{"x":{"field":"date","type":"temporal"},"x2":{"field":"end"},"y":{"field":"hi","type":"quantitative"},"y2":{"field":"lo"}}},
{"data":{"values":[{"date":"2012-01-08","end":"2029-03-09","hi":3650000,"lo":3334000}]},"mark":{"type":"rect","color":"#232323"},
"encoding":{"x":{"field":"date","type":"temporal"},"x2":{"field":"end"},"y":{"field":"hi","type":"quantitative"},"y2":{"field":"lo"}}},
{"data":{"values":[{"date":"2027-10-24","end":"2029-03-04","hi":2965000,"lo":1462000}]},"mark":{"type":"rect","color":"#111416","stroke":"#2c2f33","strokeWidth":1,"cornerRadius":4},
"encoding":{"x":{"field":"date","type":"temporal"},"x2":{"field":"end"},"y":{"field":"hi","type":"quantitative"},"y2":{"field":"lo"}}},
{"data":{"values":[{"date":"2027-12-19","price":2108000,"label":"USD"}]},"mark":{"type":"text","align":"left","baseline":"middle","fontSize":12.5,"font":"Inter","color":"#e6e6e6"},
"encoding":{"y":{"field":"price","type":"quantitative"},"text":{"field":"label"}}},
{"data":{"values":[{"date":"2012-02-03","price":2056000,"label":"Bitcoin / U.S. Dollar · 1M · INDEX\u00a0\u00a0O114,042.93\u00a0\u00a0H126,219.03\u00a0\u00a0L104,998.25\u00a0\u00a0C111,443.06\u00a0\u00a0−2,593.87 (−2.27%)"}]},"mark":{"type":"text","align":"left","baseline":"middle","fontSize":12.7,"font":"Inter","color":"#dfe3ea"},
"encoding":{"y":{"field":"price","type":"quantitative"},"text":{"field":"label"}}}
]},
{"layer":[
{"data":{"name":"rsi"},"mark":{"type":"area","opacity":0.85},
"encoding":{"y":{"field":"rsi","type":"quantitative","title":null,"scale":{"nice":false,"zero":false,"domain":[30,100],"range":[736.7,579.7]},
"axis":{"orient":"right","offset":-90,"title":null,"labelPadding":0,"labelColor":"#d3d7df","labelFontSize":13,"labelFont":"Inter","labelAlign":"left","labelBound":false,"labelFlush":false,"labelOverlap":false,"format":".2f","zindex":0,"values":[40,60,80,100]}},
"y2":{"datum":50},"detail":{"field":"run"},
"fill":{"field":"dir","type":"nominal","legend":null,"scale":{"domain":["bull","bear"],"range":["#46900e","#9c0a22"]}}}},
{"data":{"name":"levels"},"mark":{"type":"rule","color":"#7d8088","strokeWidth":1.5},
"encoding":{"x":{"field":"date","type":"temporal"},"x2":{"field":"end"},"y":{"field":"level","type":"quantitative"}}},
{"data":{"name":"rsi"},"mark":{"type":"line","strokeWidth":1.5},
"encoding":{"y":{"field":"rsi","type":"quantitative"},"detail":{"field":"run"},
"stroke":{"field":"dir","type":"nominal","legend":null,"scale":{"domain":["bull","bear"],"range":["#63d14f","#d14f70"]}}}},
{"data":{"name":"ma"},"mark":{"type":"line","color":"#ffffff","strokeWidth":3},
"encoding":{"y":{"field":"ma","type":"quantitative"}}},
{"data":{"values":[{"date":"2012-02-14","value":99,"label":"NM_RSI_DIR"}]},"mark":{"type":"text","align":"left","baseline":"middle","fontSize":13,"font":"Inter","color":"#e6e8ec"},
"encoding":{"y":{"field":"value","type":"quantitative"},"text":{"field":"label"}}},
{"data":{"values":[{"date":"2025-11-14","value":40.5,"size":1600},{"date":"2025-11-14","value":40.5,"size":900}]},"mark":{"type":"point","shape":"M 0 0 C 0.25 -0.4 0.45 -0.65 0.68 -0.65 C 0.88 -0.65 1 -0.35 1 0 C 1 0.35 0.88 0.65 0.68 0.65 C 0.45 0.65 0.25 0.4 0 0 C -0.25 -0.4 -0.45 -0.65 -0.68 -0.65 C -0.88 -0.65 -1 -0.35 -1 0 C -1 0.35 -0.88 0.65 -0.68 0.65 C -0.45 0.65 -0.25 0.4 0 0 Z","filled":false,"stroke":"#f2f4f6","strokeWidth":1.5,"opacity":1},
"encoding":{"y":{"field":"value","type":"quantitative"},"size":{"field":"size","type":"quantitative","legend":null,"scale":null}}},
{"data":{"values":[{"date":"2026-03-24","value":43.6,"label":"MERLIJN"}]},"mark":{"type":"text","align":"left","baseline":"middle","fontSize":19,"fontWeight":700,"font":"DejaVu Sans","color":"#f2f4f6"},
"encoding":{"y":{"field":"value","type":"quantitative"},"text":{"field":"label"}}},
{"data":{"values":[{"date":"2026-03-24","value":36.2,"label":"THE TRADER"}]},"mark":{"type":"text","align":"left","baseline":"middle","fontSize":13,"fontWeight":700,"font":"DejaVu Sans","color":"#f2f4f6"},
"encoding":{"y":{"field":"value","type":"quantitative"},"text":{"field":"label"}}}
]}
],
"resolve":{"scale":{"y":"independent","fill":"independent","stroke":"independent"},"axis":{"y":"independent"}}
}
